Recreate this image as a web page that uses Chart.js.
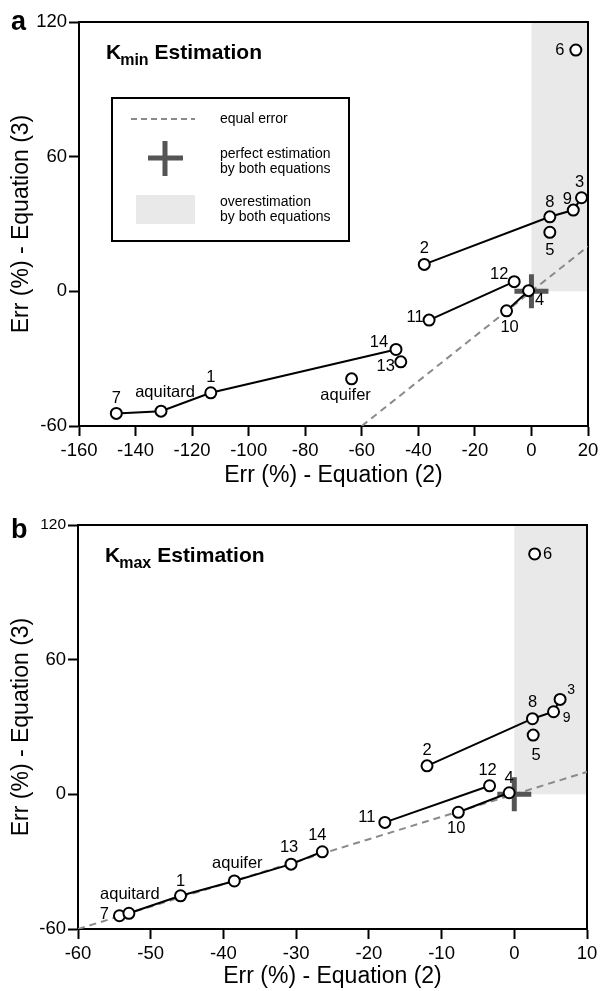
<!DOCTYPE html>
<html>
<head>
<meta charset="utf-8">
<title>Kmin / Kmax estimation errors</title>
<script src="https://cdn.jsdelivr.net/npm/chart.js@4.4.1/dist/chart.umd.min.js"></script>
<style>
    html, body { margin: 0; background: #fff; overflow: hidden; }
    canvas { position: absolute; left: 0; }
</style>
</head>
<body>
<!-- the cross marker reserves ~22px on the free sides, so the canvases run a little past the right edge -->
<canvas id="chartA" width="610" height="490" style="top:0"></canvas>
<canvas id="chartB" width="609" height="501" style="top:490px"></canvas>
<script>
const FONT = "'Liberation Sans', Arial, Helvetica, sans-serif";

// site names, same order in every value array below
const siteNames = ['1', '2', '3', '4', '5', '6', '7', '8', '9', '10', '11', '12', '13', '14', 'aquifer', 'aquitard'];

// Kmin: error (%) from equation (2) and equation (3)
const kminEq2 = [-113.4, -37.9, 17.7, -1.0, 6.5, 15.7, -146.8, 6.5, 14.8, -8.8, -36.2, -6.1, -46.2, -47.9, -63.6, -131.0];
const kminEq3 = [-45.2, 12.0, 41.7, 0.3, 26.3, 107.5, -54.4, 33.2, 36.2, -8.7, -12.8, 4.3, -31.4, -25.9, -39.0, -53.4];

// Kmax: error (%) from equation (2) and equation (3)
const kmaxEq2 = [-45.9, -12.0, 6.3, -0.7, 2.6, 2.8, -54.3, 2.5, 5.4, -7.7, -17.8, -3.4, -30.7, -26.4, -38.5, -53.0];
const kmaxEq3 = [-45.2, 12.7, 42.3, 0.7, 26.4, 107.1, -54.1, 33.7, 36.8, -8.0, -12.5, 3.8, -31.1, -25.6, -38.6, -53.0];

// sites joined by a line
const kminChains = [['7', 'aquitard', '1', '14'], ['11', '12'], ['10', '4'], ['2', '8', '9', '3']];
const kmaxChains = [['7', 'aquitard', '1', 'aquifer', '13', '14'], ['11', '12'], ['10', '4'], ['2', '8', '9', '3']];

// axis ranges / ticks
const kminXTicks = [-160, -140, -120, -100, -80, -60, -40, -20, 0, 20];
const kmaxXTicks = [-60, -50, -40, -30, -20, -10, 0, 10];
const errYTicks = [-60, 0, 60, 120];

// equal-error line (y = x) end points, perfect estimation point, overestimation zone
const kminEqualLine = [-60, 20];
const kmaxEqualLine = [-60, 10];
const perfectPoint = [0, 0];
const overZoneY = [0, 120];

// label placement around each marker (px)
const kminLabelPos = {
    '1': [0, -15], '2': [0, -16], '3': [-2, -15], '4': [11, 10], '5': [0, 18], '6': [-16, 0],
    '7': [0, -15], '8': [0, -14], '9': [-6, -11], '10': [3, 17], '11': [-14, -3], '12': [-15, -7],
    '13': [-15, 5], '14': [-17, -7], 'aquifer': [-6, 17], 'aquitard': [4, -19]
};
const kmaxLabelPos = {
    '1': [0, -14], '2': [0, -15], '3': [11, -9], '4': [0, -14], '5': [3, 20], '6': [13, 0],
    '7': [-15, -1], '8': [0, -16], '9': [13, 6], '10': [-2, 16], '11': [-18, -5], '12': [-2, -15],
    '13': [-2, -17], '14': [-5, -16], 'aquifer': [3, -18], 'aquitard': [1, -19]
};

function pick(xs, ys, names) {
    return names.map(n => {
        const i = siteNames.indexOf(n);
        return { x: xs[i], y: ys[i], label: n };
    });
}

const markerStyle = {
    pointStyle: 'circle',
    pointRadius: 5.5,
    pointHoverRadius: 5.5,
    pointBackgroundColor: '#fff',
    pointBorderColor: '#000',
    pointBorderWidth: 2
};

// gray zone, frame, panel letter, title, legend and point labels
const decorPlugin = {
    id: 'decor',
    beforeDatasetsDraw(chart, args, opts) {
        const { ctx, chartArea: a, scales: { x, y } } = chart;
        ctx.save();
        ctx.fillStyle = '#e9e9e9';
        const x0 = x.getPixelForValue(perfectPoint[0]);
        const y0 = y.getPixelForValue(overZoneY[0]);
        const y1 = y.getPixelForValue(overZoneY[1]);
        ctx.fillRect(x0, y1, a.right - x0, y0 - y1);
        ctx.strokeStyle = '#000';
        ctx.lineWidth = 2;
        ctx.strokeRect(a.left, a.top, a.right - a.left, a.bottom - a.top);
        ctx.restore();
    },
    afterDatasetsDraw(chart, args, opts) {
        const { ctx, chartArea: a } = chart;
        ctx.save();
        ctx.fillStyle = '#000';

        // point labels
        ctx.textAlign = 'center';
        ctx.textBaseline = 'middle';
        chart.data.datasets.forEach((ds, di) => {
            if (!ds.labelled) return;
            const meta = chart.getDatasetMeta(di);
            ds.data.forEach((d, j) => {
                const el = meta.data[j];
                const off = opts.labelPos[d.label] || [0, -15];
                ctx.font = (opts.smallLabels.includes(d.label) ? '14px ' : '16.5px ') + FONT;
                ctx.fillText(d.label, el.x + off[0], el.y + off[1]);
            });
        });

        // panel letter
        ctx.textAlign = 'left';
        ctx.textBaseline = 'alphabetic';
        ctx.font = 'bold 27px ' + FONT;
        ctx.fillText(opts.letter, 11, opts.letterY);

        // title with subscript
        let tx = a.left + 27;
        const ty = a.top + 37;
        ctx.font = 'bold 21px ' + FONT;
        ctx.fillText('K', tx, ty);
        tx += ctx.measureText('K').width - 1;
        ctx.font = 'bold 16px ' + FONT;
        ctx.fillText(opts.sub, tx, ty + 6);
        tx += ctx.measureText(opts.sub).width + 6;
        ctx.font = 'bold 21px ' + FONT;
        ctx.fillText('Estimation', tx, ty);

        if (opts.legend) {
            const lx = a.left + 33, ly = a.top + 76;
            ctx.fillStyle = '#fff';
            ctx.fillRect(lx, ly, 237, 143);
            ctx.strokeStyle = '#000';
            ctx.lineWidth = 2;
            ctx.strokeRect(lx, ly, 237, 143);

            // equal error
            ctx.strokeStyle = '#8a8a8a';
            ctx.setLineDash([6, 4]);
            ctx.beginPath();
            ctx.moveTo(lx + 19, ly + 21);
            ctx.lineTo(lx + 83, ly + 21);
            ctx.stroke();
            ctx.setLineDash([]);

            // perfect estimation
            ctx.strokeStyle = '#555';
            ctx.lineWidth = 5;
            ctx.beginPath();
            ctx.moveTo(lx + 53, ly + 43);
            ctx.lineTo(lx + 53, ly + 78);
            ctx.moveTo(lx + 36, ly + 60);
            ctx.lineTo(lx + 71, ly + 60);
            ctx.stroke();

            // overestimation
            ctx.fillStyle = '#e9e9e9';
            ctx.fillRect(lx + 24, ly + 97, 59, 29);

            ctx.fillStyle = '#000';
            ctx.font = '14px ' + FONT;
            ctx.textBaseline = 'middle';
            const tx0 = lx + 108;
            ctx.fillText('equal error', tx0, ly + 21);
            ctx.fillText('perfect estimation', tx0, ly + 56);
            ctx.fillText('by both equations', tx0, ly + 71);
            ctx.fillText('overestimation', tx0, ly + 104);
            ctx.fillText('by both equations', tx0, ly + 119);
        }
        ctx.restore();
    }
};

function buildChart(id, xs, ys, chains, equalLine, xTicks, yAxisWidth, xAxisHeight, pad, decor) {
    const chained = new Set(chains.flat());
    const loose = siteNames.filter(n => !chained.has(n));

    const datasets = [
        {
            data: equalLine.map(v => ({ x: v, y: v })),
            showLine: true,
            borderColor: '#8a8a8a',
            borderWidth: 2,
            borderDash: [7, 5],
            pointRadius: 0,
            order: 5
        },
        {
            data: [{ x: perfectPoint[0], y: perfectPoint[1] }],
            pointStyle: 'cross',
            pointRadius: 17,
            pointHoverRadius: 17,
            pointBorderColor: '#555',
            pointBorderWidth: 5,
            order: 4
        }
    ];
    chains.forEach(c => datasets.push(Object.assign({
        data: pick(xs, ys, c),
        showLine: true,
        borderColor: '#000',
        borderWidth: 2,
        labelled: true,
        order: 2
    }, markerStyle)));
    datasets.push(Object.assign({
        data: pick(xs, ys, loose),
        showLine: false,
        labelled: true,
        order: 1
    }, markerStyle));

    const tickOpts = {
        color: '#000',
        padding: 4,
        font: { family: FONT, size: 18.5 }
    };

    return new Chart(document.getElementById(id), {
        type: 'scatter',
        data: { datasets },
        options: {
            responsive: false,
            animation: false,
            events: [],
            layout: { padding: pad },
            plugins: {
                legend: { display: false },
                tooltip: { enabled: false },
                decor
            },
            scales: {
                x: {
                    type: 'linear',
                    min: xTicks[0],
                    max: xTicks[xTicks.length - 1],
                    afterBuildTicks: s => { s.ticks = xTicks.map(v => ({ value: v })); },
                    afterFit: s => { s.height = xAxisHeight; s.paddingLeft = 0; s.paddingRight = 0; },
                    grid: { drawOnChartArea: false, tickLength: 10, tickWidth: 2, tickColor: '#000' },
                    border: { color: '#000', width: 2 },
                    ticks: tickOpts,
                    title: {
                        display: true,
                        text: 'Err (%) - Equation (2)',
                        color: '#000',
                        font: { family: FONT, size: 23 },
                        padding: { top: 0, bottom: 1 }
                    }
                },
                y: {
                    type: 'linear',
                    min: errYTicks[0],
                    max: errYTicks[errYTicks.length - 1],
                    afterBuildTicks: s => { s.ticks = errYTicks.map(v => ({ value: v })); },
                    afterFit: s => { s.width = yAxisWidth; s.paddingTop = 0; s.paddingBottom = 0; },
                    grid: { drawOnChartArea: false, tickLength: 10, tickWidth: 2, tickColor: '#000' },
                    border: { color: '#000', width: 2 },
                    ticks: Object.assign({}, tickOpts, {
                        padding: 2,
                        font: c => ({ family: FONT, size: (decor.smallTop && c.tick && c.tick.value === 120) ? 15.5 : 18.5 })
                    }),
                    title: {
                        display: true,
                        text: 'Err (%) - Equation (3)',
                        color: '#000',
                        font: { family: FONT, size: 23 },
                        padding: { top: 8, bottom: 0 }
                    }
                }
            }
        },
        plugins: [decorPlugin]
    });
}

buildChart('chartA', kminEq2, kminEq3, kminChains, kminEqualLine, kminXTicks, 79, 64,
    { left: 0, right: 0, top: 22, bottom: 0 },
    { letter: 'a', letterY: 30, sub: 'min', legend: true, smallTop: false, labelPos: kminLabelPos, smallLabels: [] });

buildChart('chartB', kmaxEq2, kmaxEq3, kmaxChains, kmaxEqualLine, kmaxXTicks, 78, 62,
    { left: 0, right: 0, top: 35, bottom: 0 },
    { letter: 'b', letterY: 48, sub: 'max', legend: false, smallTop: true, labelPos: kmaxLabelPos, smallLabels: ['3', '9'] });
</script>
</body>
</html>
